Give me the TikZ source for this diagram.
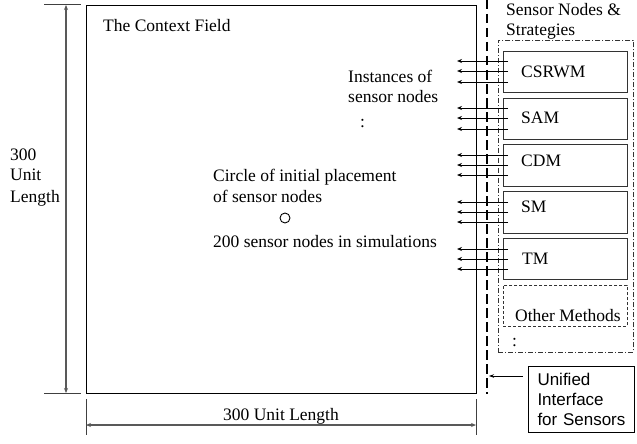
\documentclass[tikz,border=0pt]{standalone}
\usepackage{fontspec}
\setmainfont{Liberation Serif}
\newfontfamily\arialf{Liberation Sans}
\usetikzlibrary{arrows.meta}
\begin{document}
\begin{tikzpicture}[x=1pt,y=-1pt,
  font=\fontsize{17.5}{21}\selectfont,
  txt/.style={anchor=base west, inner sep=0},
  fieldbox/.style={draw=black, line width=1.1pt, inner sep=0, anchor=north west},
  stratbox/.style={draw=black!80, line width=1.2pt, inner sep=0, anchor=north west, minimum width=124pt, minimum height=41pt},
  otherbox/.style={draw=black!80, line width=0.9pt, dash pattern=on 3pt off 2pt, inner sep=0, anchor=north west, minimum width=124pt, minimum height=41pt},
  groupbox/.style={draw=black!80, line width=0.9pt, dash pattern=on 5pt off 2pt on 1pt off 2pt, inner sep=0, anchor=north west},
  sig/.style={-{Stealth[length=5pt,width=4pt]}, line width=0.9pt},
  dimarrow/.style={{Stealth[length=5pt,width=4pt]}-{Stealth[length=5pt,width=4pt]}, draw=black!65, line width=1.3pt},
  extline/.style={draw=black!75, line width=1pt},
  ifline/.style={draw=black, line width=2.2pt, dash pattern=on 9.5pt off 4.5pt}]

% bounding box
\fill[white] (0,0) rectangle (637,444);
\useasboundingbox (0,0) rectangle (637,444);

% context field
\node[fieldbox, minimum width=390pt, minimum height=388pt] (field) at (86,5) {};
\node[txt] (fieldlbl) at (103,31.5) {The Context Field};

% vertical dimension
\coordinate (vt1) at (44,5);
\coordinate (vt2) at (81,5);
\coordinate (vb1) at (44,393);
\coordinate (vb2) at (81,393);
\coordinate (va) at (66,5);
\coordinate (vb) at (66,393);
\draw[extline] (vt1) -- (vt2);
\draw[extline] (vb1) -- (vb2);
\draw[dimarrow] (va) -- (vb);
\node[txt] (vl1) at (10,160.5) {300};
\node[txt] (vl2) at (10,180.5) {Unit};
\node[txt] (vl3) at (10,202) {Length};

% horizontal dimension
\coordinate (hl1) at (86,399);
\coordinate (hl2) at (86,435);
\coordinate (hr1) at (476,399);
\coordinate (hr2) at (476,435);
\coordinate (ha) at (86,425);
\coordinate (hb) at (476,425);
\draw[extline] (hl1) -- (hl2);
\draw[extline] (hr1) -- (hr2);
\draw[dimarrow] (ha) -- (hb);
\node[anchor=base, inner sep=0] (hlbl) at (281,420) {300 Unit Length};

% inner texts
\node[txt] (inst1) at (348,82.5) {Instances of};
\node[txt] (inst2) at (348,102.5) {sensor nodes};
\node[txt] (inst3) at (360,127) {:};
\node[txt] (circ1) at (213,181.5) {Circle of initial placement};
\node[txt] (circ2) at (213,202.5) {of sensor nodes};
\draw[line width=0.9pt] (285,218) circle (5pt);
\node[txt] (sim) at (213,247) {200 sensor nodes in simulations};

% interface line
\coordinate (iftop) at (487,0);
\coordinate (ifbot) at (487,394);
\draw[ifline] (iftop) -- (ifbot);

% strategies group
\node[txt] (sn1) at (506,15.5) {Sensor Nodes \&};
\node[txt] (sn2) at (506,36) {Strategies};
\node[groupbox, minimum width=135pt, minimum height=312pt] (group) at (498,40) {};

\node[stratbox] (csrwm) at (503,51) {};
\node[stratbox] (sam) at (503,98) {};
\node[stratbox, minimum height=42pt] (cdm) at (503,144) {};
\node[stratbox, minimum height=42pt] (sm) at (503,191) {};
\node[stratbox] (tm) at (503,238) {};
\node[otherbox] (other) at (503,285) {};

\node[txt] (csrwmlbl) at (521,77.5) {CSRWM};
\node[txt] (samlbl) at (521,123.5) {SAM};
\node[txt] (cdmlbl) at (521,166) {CDM};
\node[txt] (smlbl) at (521,212.5) {SM};
\node[txt] (tmlbl) at (522,264) {TM};
\node[txt] (otherlbl) at (515,321) {Other Methods};
\node[txt] (groupdots) at (512,346) {:};

% signal arrows
\foreach \nm/\ya/\yb/\yc in {csrwm/61/71/82, sam/108/118/129, cdm/155/165/175, sm/202/212/222, tm/249/259/269}{
  \coordinate (\nm s1) at (508,\ya); \coordinate (\nm e1) at (457,\ya);
  \coordinate (\nm s2) at (508,\yb); \coordinate (\nm e2) at (457,\yb);
  \coordinate (\nm s3) at (508,\yc); \coordinate (\nm e3) at (457,\yc);
  \draw[sig] (\nm s1) -- (\nm e1);
  \draw[sig] (\nm s2) -- (\nm e2);
  \draw[sig] (\nm s3) -- (\nm e3);
}

% unified interface
\node[draw=black, line width=1pt, anchor=north west, minimum width=106pt, minimum height=66pt,
      inner xsep=9pt, inner ysep=0pt, text width=88pt, align=left,
      font=\arialf\fontsize{17}{20}\selectfont] (unified) at (528,366) {Unified\\Interface\\for Sensors};
\coordinate (ufs) at (523,376);
\coordinate (ufe) at (489,376);
\draw[-{Stealth[length=5pt,width=3.5pt]}, line width=0.8pt] (ufs) -- (ufe);
\end{tikzpicture}
\end{document}
